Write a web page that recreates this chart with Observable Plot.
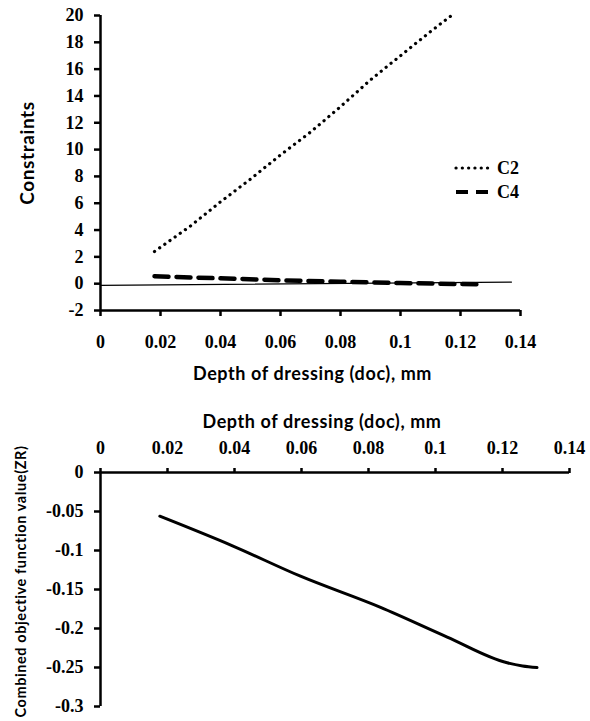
<!DOCTYPE html>
<html>
<head>
<meta charset="utf-8">
<script src="https://cdn.jsdelivr.net/npm/d3@7"></script>
<script src="https://cdn.jsdelivr.net/npm/@observablehq/plot@0.6"></script>
<style>
  body { margin: 0; background: #fff; }
  #wrap { position: relative; width: 590px; height: 721px; }
  #wrap svg { display: block; }
  #wrap svg g[font-family^="Lato"] text { letter-spacing: 0.6px; }
  #legend { position: absolute; left: 453px; top: 156px; font-family: "Liberation Serif", serif; font-weight: bold; font-size: 18px; }
</style>
</head>
<body>
<div id="wrap"></div>
<script>
// ---- Data ----
const c2Doc  = [0.018, 0.03, 0.04, 0.05, 0.06, 0.07, 0.08, 0.09, 0.10, 0.11, 0.117];
const c2Vals = [2.4, 4.3, 6.1, 7.8, 9.6, 11.3, 13.2, 15.2, 17.0, 18.8, 20.0];
const c4Doc  = [0.018, 0.04, 0.06, 0.08, 0.10, 0.127];
const c4Vals = [0.55, 0.40, 0.25, 0.15, 0.05, -0.05];
const refDoc  = [0, 0.137];
const refVals = [-0.12, 0.12];
const zrDoc  = [0.0177, 0.0394, 0.0597, 0.0836, 0.1035, 0.1214, 0.126, 0.1303];
const zrVals = [-0.056, -0.094, -0.133, -0.173, -0.211, -0.244, -0.248, -0.250];
const xTicks = [0, 0.02, 0.04, 0.06, 0.08, 0.1, 0.12, 0.14];
const yTicksTop = [-2, 0, 2, 4, 6, 8, 10, 12, 14, 16, 18, 20];
const yTicksBottom = [0, -0.05, -0.1, -0.15, -0.2, -0.25, -0.3];
const xTitle = "Depth of dressing (doc), mm";
const yTitleTop = "Constraints";
const yTitleBottom = "Combined objective function value(ZR)";
const seriesNames = ["C2", "C4"];

const zip = (xs, ys) => xs.map((x, i) => ({x, y: ys[i]}));
const c2 = zip(c2Doc, c2Vals);
const c4 = zip(c4Doc, c4Vals);
const ref = zip(refDoc, refVals);
const zr = zip(zrDoc, zrVals);

const tickFont = {fontFamily: "Liberation Serif", fontSize: 18, fontWeight: "bold", fill: "#000"};
const titleFont = {fontFamily: "Lato", fontWeight: "bold", fill: "#000", textAnchor: "middle", lineAnchor: "middle"};
const noLabel = () => "";

const topChart = Plot.plot({
  width: 590, height: 390,
  marginLeft: 100, marginRight: 70, marginTop: 15, marginBottom: 80,
  style: {color: "#000", background: "#fff"},
  x: {domain: [0, 0.14]},
  y: {domain: [-2, 20]},
  marks: [
    Plot.axisX({ticks: xTicks, tickFormat: noLabel, tickSize: 6, label: null, strokeWidth: 2.5}),
    Plot.axisY({ticks: yTicksTop, tickFormat: noLabel, tickSize: 6, label: null, strokeWidth: 2.5}),
    Plot.text(xTicks, {x: d => d, text: d => String(d), frameAnchor: "bottom", dy: 32, lineAnchor: "middle", ...tickFont}),
    Plot.text(yTicksTop, {y: d => d, text: d => String(d), frameAnchor: "left", dx: -17, textAnchor: "end", lineAnchor: "middle", ...tickFont}),
    Plot.ruleX([0], {stroke: "#000", strokeWidth: 2.5}),
    Plot.ruleY([-2], {stroke: "#000", strokeWidth: 2.5}),
    Plot.line(ref, {x: "x", y: "y", stroke: "#000", strokeWidth: 1.2}),
    Plot.line(c4, {x: "x", y: "y", stroke: "#000", strokeWidth: 4.5, strokeDasharray: "14,8"}),
    Plot.line(c2, {x: "x", y: "y", stroke: "#000", strokeWidth: 3.2, strokeDasharray: "0.1,6.2", strokeLinecap: "round"}),
    Plot.text([xTitle], {text: d => d, frameAnchor: "bottom", dy: 64, dx: 2, fontSize: 18, ...titleFont}),
    Plot.text([yTitleTop], {text: d => d, frameAnchor: "left", dx: -73, dy: -10, rotate: -90, fontSize: 19, ...titleFont})
  ]
});

const bottomChart = Plot.plot({
  width: 590, height: 331,
  marginLeft: 100, marginRight: 21, marginTop: 82, marginBottom: 15,
  style: {color: "#000", background: "#fff"},
  x: {domain: [0, 0.14]},
  y: {domain: [-0.3, 0]},
  marks: [
    Plot.axisX({anchor: "top", ticks: xTicks, tickFormat: noLabel, tickSize: 5, label: null, strokeWidth: 2.5}),
    Plot.axisY({ticks: yTicksBottom, tickFormat: noLabel, tickSize: 6, label: null, strokeWidth: 2.5}),
    Plot.text(xTicks, {x: d => d, text: d => String(d), frameAnchor: "top", dy: -24, lineAnchor: "middle", ...tickFont}),
    Plot.text(yTicksBottom, {y: d => d, text: d => String(d), frameAnchor: "left", dx: -17, textAnchor: "end", lineAnchor: "middle", ...tickFont}),
    Plot.ruleX([0], {stroke: "#000", strokeWidth: 2.5}),
    Plot.ruleY([0], {stroke: "#000", strokeWidth: 2.5}),
    Plot.line(zr, {x: "x", y: "y", stroke: "#000", strokeWidth: 3, curve: "monotone-x"}),
    Plot.text([xTitle], {text: d => d, frameAnchor: "top", dy: -50, dx: -13, fontSize: 18, ...titleFont}),
    Plot.text([yTitleBottom], {text: d => d, frameAnchor: "left", dx: -79, dy: -8, rotate: -90, fontSize: 14.5, ...titleFont})
  ]
});

const wrap = document.getElementById("wrap");
wrap.appendChild(topChart);
wrap.appendChild(bottomChart);

// Legend (HTML overlay)
const legend = document.createElement("div");
legend.id = "legend";
const legendStyles = [
  {dash: "0.1,6.2", w: 3.2, cap: "round"},
  {dash: "12,8", w: 4, cap: "butt"}
];
legend.innerHTML = seriesNames.map((name, i) =>
  `<div style="display:flex;align-items:center;height:24px;">
     <svg width="40" height="10" style="display:block"><line x1="3" y1="5" x2="39" y2="5" stroke="#000" stroke-width="${legendStyles[i].w}" stroke-dasharray="${legendStyles[i].dash}" stroke-linecap="${legendStyles[i].cap}"/></svg>
     <span style="margin-left:4px">${name}</span>
   </div>`).join("");
wrap.appendChild(legend);
</script>
</body>
</html>
